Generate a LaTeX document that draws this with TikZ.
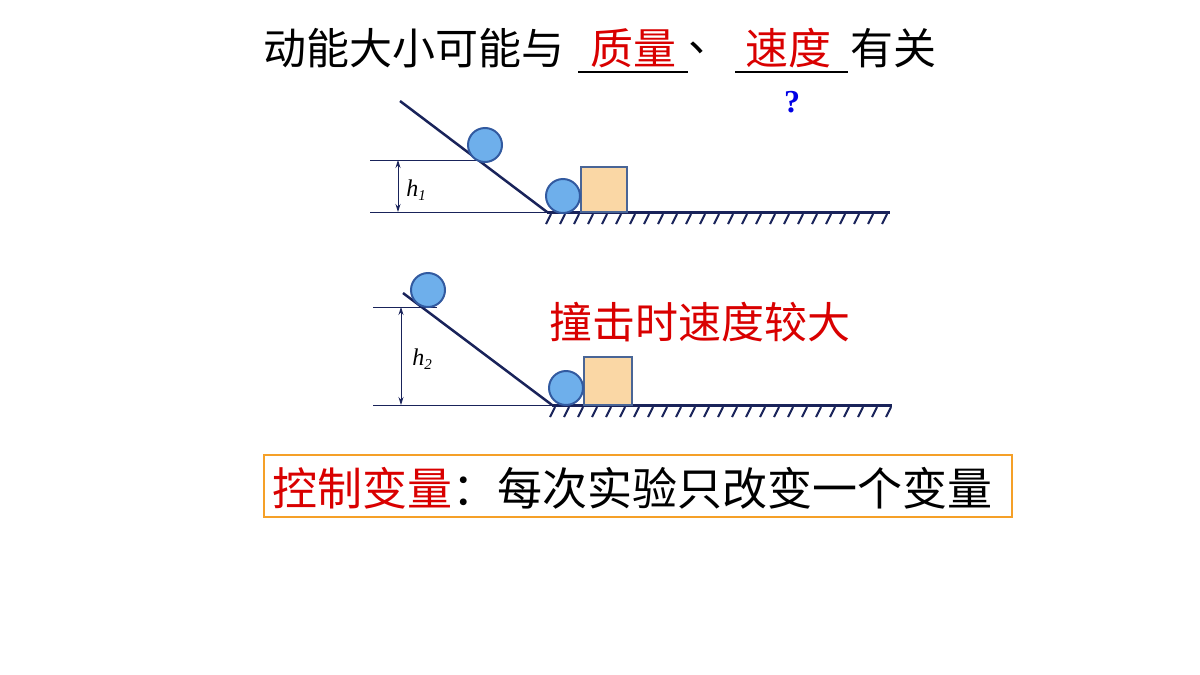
\documentclass[tikz,border=0pt]{standalone}
\usepackage{fontspec}
\setmainfont{Liberation Serif}
\newfontfamily\cjk{Noto Sans CJK SC}
\usetikzlibrary{arrows.meta}
\definecolor{ballblue}{RGB}{110,175,235}
\definecolor{ballline}{RGB}{50,90,160}
\definecolor{boxfill}{RGB}{250,215,165}
\definecolor{lineblue}{RGB}{25,35,90}
\definecolor{framecol}{RGB}{245,160,40}
\tikzset{
  ball/.style={circle,draw=ballline,fill=ballblue,line width=2pt,minimum size=34pt,inner sep=0pt},
  block/.style={draw=ballline!70!gray,fill=boxfill,line width=2pt},
  slope/.style={lineblue,line width=2.5pt},
  ground/.style={lineblue,line width=3pt},
  hatch/.style={lineblue,line width=2pt},
  guide/.style={lineblue,line width=0.9pt},
  dim/.style={lineblue,line width=0.8pt,{Stealth[length=8pt,width=5pt]}-{Stealth[length=8pt,width=5pt]}},
  big/.style={font=\cjk\fontsize{43}{43}\selectfont,inner sep=0pt},
  redtext/.style={text=red!85!black}
}
\begin{document}
\begin{tikzpicture}[x=1pt,y=-1pt]
  \useasboundingbox (0,0) rectangle (1200,675);
  \fill[white] (0,0) rectangle (1200,675);

  % Title
  \node[big,anchor=west] (t1) at (263,48) {动能大小可能与};
  \node[big,anchor=west,redtext] (t2) at (590,48) {质量};
  \node[big,anchor=west] (t3) at (688,48) {、};
  \node[big,anchor=west,redtext] (t4) at (745,48) {速度};
  \node[big,anchor=west] (t5) at (850,48) {有关};
  \draw[line width=1.5pt] (578,72) -- (688,72);
  \draw[line width=1.5pt] (735,72) -- (848,72);
  \node[font=\bfseries\fontsize{32}{32}\selectfont,text=blue!90!black] (q) at (792,102) {?};

  % Experiment 1
  \coordinate (top1) at (400,101);
  \coordinate (foot1) at (547,212);
  \draw[slope] (top1) -- (foot1);
  \draw[ground] (foot1) -- (890,212);
  \foreach \i in {0,...,24} \draw[hatch] (551+14*\i,214) -- ++(-5,10);
  \draw[guide] (370,160) -- (480,160);
  \draw[guide] (370,212) -- (foot1);
  \draw[dim] (398,160) -- (398,212);
  \node[font=\itshape\fontsize{24}{24}\selectfont] (h1) at (416,190) {h\raisebox{-0.35ex}{\fontsize{15}{15}\selectfont 1}};
  \node[ball] (b1) at (485,145) {};
  \draw[block] (581,167) rectangle (627,212);
  \node[ball] (b2) at (563,196) {};

  % Experiment 2
  \coordinate (top2) at (403,293);
  \coordinate (foot2) at (552,405);
  \draw[slope] (top2) -- (foot2);
  \draw[ground] (foot2) -- (892,405);
  \foreach \i in {0,...,24} \draw[hatch] (555+14*\i,407) -- ++(-5,10);
  \draw[guide] (373,307) -- (437,307);
  \draw[guide] (373,405) -- (foot2);
  \draw[dim] (401,307) -- (401,405);
  \node[font=\itshape\fontsize{24}{24}\selectfont,fill=white,inner sep=1pt] (h2) at (422,359) {h\raisebox{-0.35ex}{\fontsize{15}{15}\selectfont 2}};
  \node[ball] (b3) at (428,290) {};
  \draw[block] (584,357) rectangle (632,405);
  \node[ball] (b4) at (566,388) {};
  \node[big,redtext] (fast) at (700,322) {撞击时速度较大};

  % Conclusion
  \node[draw=framecol,line width=2.5pt,minimum width=748pt,minimum height=62pt,inner sep=0pt] (frame) at (638,486) {};
  \node[anchor=west,inner sep=0pt,font=\cjk\fontsize{45}{45}\selectfont] (ctl) at (272,488) {\textcolor{red!85!black}{控制变量}：每次实验只改变一个变量};
\end{tikzpicture}
\end{document}
